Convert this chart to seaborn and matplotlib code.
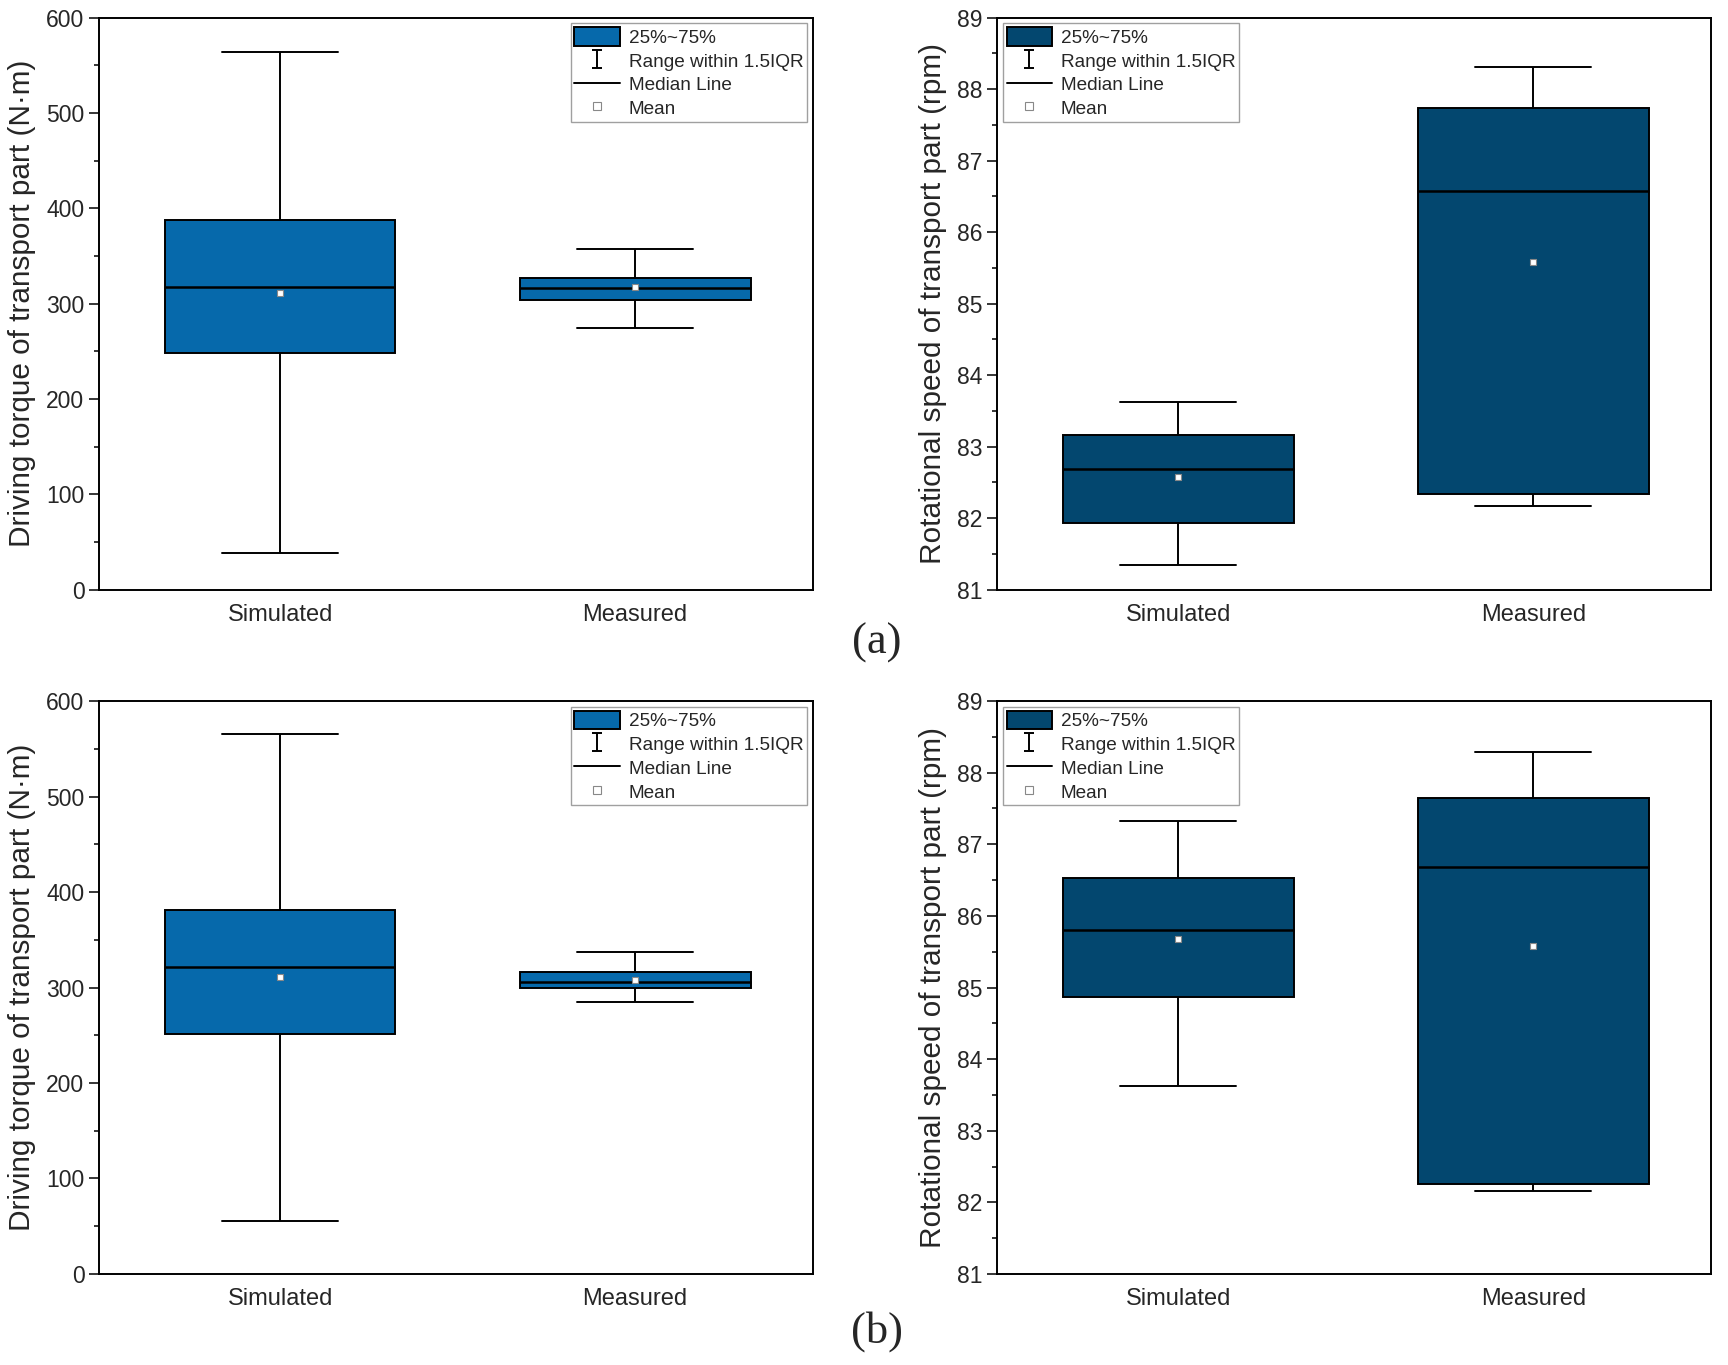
import numpy as np
import pandas as pd
import matplotlib.pyplot as plt
import seaborn as sns
from matplotlib.patches import Patch
from matplotlib.lines import Line2D
from matplotlib.path import Path
from matplotlib.ticker import MultipleLocator

# five-number summaries: [lower whisker, Q1, median, Q3, upper whisker]
groups = ["Simulated", "Measured"]

torque_a_sim = [39, 248, 318, 388, 564]
torque_a_meas = [274, 304, 316, 327, 357]
torque_a_mean = [311, 318]

speed_a_sim = [81.35, 81.93, 82.69, 83.16, 83.62]
speed_a_meas = [82.17, 82.34, 86.58, 87.74, 88.31]
speed_a_mean = [82.57, 85.59]

torque_b_sim = [55, 251, 322, 381, 566]
torque_b_meas = [285, 300, 306, 316, 337]
torque_b_mean = [311, 308]

speed_b_sim = [83.62, 84.87, 85.80, 86.53, 87.33]
speed_b_meas = [82.16, 82.26, 86.68, 87.65, 88.29]
speed_b_mean = [85.68, 85.58]

torque_label = "Driving torque of transport part (N·m)"
speed_label = "Rotational speed of transport part (rpm)"
legend_labels = ["25%~75%", "Range within 1.5IQR", "Median Line", "Mean"]

light_blue = "#0669AB"
dark_blue = "#03476F"

sns.set_style("ticks")
plt.rcParams['font.family'] = ['Liberation Sans', 'DejaVu Sans']

# I-beam marker for the whisker legend entry
ibeam = Path([(-0.6, 1), (0.6, 1), (0, 1), (0, -1), (-0.6, -1), (0.6, -1)],
             [Path.MOVETO, Path.LINETO, Path.MOVETO, Path.LINETO, Path.MOVETO, Path.LINETO])


def box_panel(ax, sim, meas, means, color, ylabel, ylim, major, minor, legend_loc):
    '''
    Draws one panel: two boxes from their five-number summaries plus the mean markers.
    '''
    df = pd.DataFrame({"group": [groups[0]] * len(sim) + [groups[1]] * len(meas),
                       "value": sim + meas})
    sns.boxplot(data=df, x="group", y="value", order=groups, ax=ax, whis=(0, 100),
                width=0.65, color=color, saturation=1, linecolor="black", linewidth=1.4,
                medianprops=dict(linewidth=1.8))
    mean_df = pd.DataFrame({"group": groups, "value": means})
    sns.pointplot(data=mean_df, x="group", y="value", order=groups, ax=ax, errorbar=None,
                  linestyle="none", marker="s", markersize=5, color="white",
                  markeredgecolor="#888888", markeredgewidth=0.8, zorder=5)

    ax.set_xlim(-0.51, 1.5)
    ax.set_ylim(*ylim)
    ax.yaxis.set_major_locator(MultipleLocator(major))
    ax.yaxis.set_minor_locator(MultipleLocator(minor))
    ax.set_xlabel("")
    ax.set_ylabel(ylabel, fontsize=21.4, labelpad=7)
    ax.tick_params(axis="y", which="major", length=7, width=1.3, labelsize=16.5, direction="out")
    ax.tick_params(axis="y", which="minor", length=3.5, width=1.3, direction="out")
    ax.tick_params(axis="x", length=0, labelsize=17, pad=10)
    for side in ["left", "right", "top", "bottom"]:
        ax.spines[side].set_visible(True)
        ax.spines[side].set_linewidth(1.4)
        ax.spines[side].set_color("black")

    handles = [
        Patch(facecolor=color, edgecolor="black", linewidth=1.4),
        Line2D([], [], color="black", marker=ibeam, linestyle="none", markersize=12.5,
               markeredgewidth=1.4),
        Line2D([], [], color="black", linewidth=1.4),
        Line2D([], [], marker="s", linestyle="none", markerfacecolor="white",
               markeredgecolor="#888888", markersize=5.5, markeredgewidth=0.8),
    ]
    leg = ax.legend(handles, legend_labels, loc=legend_loc, fontsize=13.7, frameon=True,
                    fancybox=False, framealpha=1, edgecolor="#a0a0a0", borderaxespad=0.3,
                    borderpad=0.2, handlelength=2.4, handleheight=1.1, handletextpad=0.45,
                    labelspacing=0.22)
    leg.get_frame().set_linewidth(1.0)


fig = plt.figure(figsize=(17.28, 13.65), dpi=100)

ax1 = fig.add_axes([0.0573, 0.568, 0.413, 0.419])
ax2 = fig.add_axes([0.577, 0.568, 0.413, 0.419])
ax3 = fig.add_axes([0.0573, 0.0667, 0.413, 0.4197])
ax4 = fig.add_axes([0.577, 0.0667, 0.413, 0.4197])

box_panel(ax1, torque_a_sim, torque_a_meas, torque_a_mean, light_blue, torque_label,
          (0, 600), 100, 50, "upper right")
box_panel(ax2, speed_a_sim, speed_a_meas, speed_a_mean, dark_blue, speed_label,
          (81, 89), 1, 0.5, "upper left")
box_panel(ax3, torque_b_sim, torque_b_meas, torque_b_mean, light_blue, torque_label,
          (0, 600), 100, 50, "upper right")
box_panel(ax4, speed_b_sim, speed_b_meas, speed_b_mean, dark_blue, speed_label,
          (81, 89), 1, 0.5, "upper left")

# panel tags
fig.text(0.5075, 0.529, "(a)", fontsize=32, family=["Liberation Serif"], ha="center", va="center")
fig.text(0.5075, 0.0249, "(b)", fontsize=32, family=["Liberation Serif"], ha="center", va="center")

fig.savefig("out.png", dpi=100)
